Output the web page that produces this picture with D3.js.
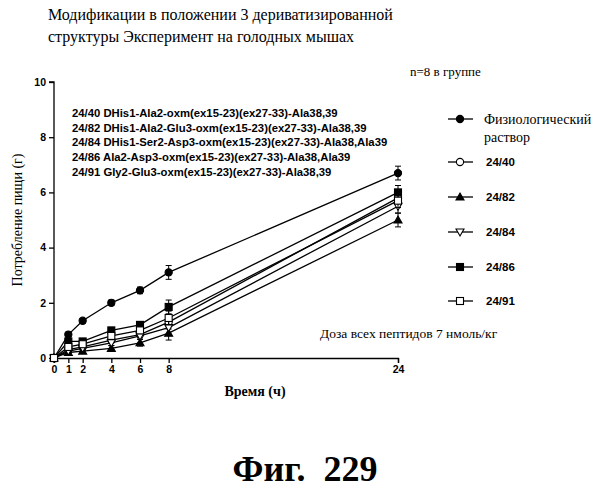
<!DOCTYPE html><html><head><meta charset="utf-8"><script src="https://cdn.jsdelivr.net/npm/d3@7"></script>
<style>body{margin:0;background:#fff}</style></head><body><svg id="c" width="610" height="500"></svg><script>
const hours=[0,1,2,4,6,8,24];
const yTicks=[0,2,4,6,8,10];
const seriesNames=["Физиологический раствор","24/40","24/82","24/84","24/86","24/91"];
const saline=[0,0.85,1.35,2.0,2.45,3.1,6.7];
const s2440=[0,0.3,0.4,0.65,0.85,1.3,5.8];
const s2482=[0,0.2,0.25,0.35,0.55,0.9,5.0];
const s2484=[0,0.25,0.35,0.55,0.8,1.1,5.5];
const s2486=[0,0.6,0.6,1.0,1.2,1.85,6.0];
const s2491=[0,0.4,0.5,0.8,1.0,1.45,5.7];
const errs=[0,0.08,0.08,0.1,0.12,0.25,0.25];
const peptides=["24/40 DHis1-Ala2-oxm(ex15-23)(ex27-33)-Ala38,39","24/82 DHis1-Ala2-Glu3-oxm(ex15-23)(ex27-33)-Ala38,39","24/84 DHis1-Ser2-Asp3-oxm(ex15-23)(ex27-33)-Ala38,Ala39","24/86 Ala2-Asp3-oxm(ex15-23)(ex27-33)-Ala38,Ala39","24/91 Gly2-Glu3-oxm(ex15-23)(ex27-33)-Ala38,39"];
const all=[saline,s2440,s2482,s2484,s2486,s2491];
const markers=["fcircle","ocircle","ftri","otri","fsq","osq"];
const svg=d3.select("#c");
const x=d3.scaleLinear().domain([0,24]).range([54,398]);
const y=d3.scaleLinear().domain([0,10]).range([358,82]);
const serif="Liberation Serif, serif", sans="Liberation Sans, Arial, sans-serif";
svg.append("text").attr("x",48).attr("y",20).attr("font-family",serif).attr("font-size",16).text("Модификации в положении 3 дериватизированной");
svg.append("text").attr("x",48).attr("y",42).attr("font-family",serif).attr("font-size",16).text("структуры Эксперимент на голодных мышах");
svg.append("text").attr("x",410).attr("y",76).attr("font-family",serif).attr("font-size",13).text("n=8 в группе");
const ya=svg.append("g").attr("transform","translate(54,0)").call(d3.axisLeft(y).tickValues(yTicks).tickSize(5).tickFormat(d3.format("d")));
const xa=svg.append("g").attr("transform","translate(0,358)").call(d3.axisBottom(x).tickValues(hours).tickSize(5));
[ya,xa].forEach(a=>{a.selectAll("text").attr("font-family",sans).attr("font-weight","bold").attr("font-size",10.5);a.selectAll("line,path").attr("stroke","#000").attr("stroke-width",1.3);});
ya.select(".domain").attr("d","M-5,82H0V358");
svg.append("text").attr("transform","translate(22,220) rotate(-90)").attr("text-anchor","middle").attr("font-family",serif).attr("font-size",14).text("Потребление пищи (г)");
svg.append("text").attr("x",255).attr("y",396).attr("text-anchor","middle").attr("font-family",serif).attr("font-weight","bold").attr("font-size",14).text("Время (ч)");
svg.append("text").attr("x",305).attr("y",481).attr("text-anchor","middle").attr("font-family",serif).attr("font-weight","bold").attr("font-size",36).text("Фиг.\u00a0\u00a0229");
svg.append("text").attr("x",320).attr("y",338).attr("font-family",serif).attr("font-size",13.5).text("Доза всех пептидов 7 нмоль/кг");
peptides.forEach((p,i)=>svg.append("text").attr("x",72).attr("y",117+i*14.7).attr("font-family",sans).attr("font-weight","bold").attr("font-size",11.3).text(p));
function marker(g,t,cx,cy){
 const fill=t[0]=="f"?"#000":"#fff";
 if(t.endsWith("circle"))g.append("circle").attr("cx",cx).attr("cy",cy).attr("r",3.6).attr("fill",fill).attr("stroke","#000").attr("stroke-width",1.1);
 else if(t.endsWith("sq"))g.append("rect").attr("x",cx-3.5).attr("y",cy-3.5).attr("width",7).attr("height",7).attr("fill",fill).attr("stroke","#000").attr("stroke-width",1.1);
 else {const d=t=="ftri"?`M${cx},${cy-4}L${cx+4},${cy+3}L${cx-4},${cy+3}Z`:`M${cx},${cy+4}L${cx+4},${cy-3}L${cx-4},${cy-3}Z`;g.append("path").attr("d",d).attr("fill",fill).attr("stroke","#000").attr("stroke-width",1.1);}
}
const line=d3.line().x((d,i)=>x(hours[i])).y(d=>y(d));
all.forEach((vals,k)=>{
 const g=svg.append("g");
 g.append("path").attr("d",line(vals)).attr("fill","none").attr("stroke","#000").attr("stroke-width",1.3);
 vals.forEach((v,i)=>{const e=errs[i];if(e>0){g.append("path").attr("d",`M${x(hours[i])},${y(v+e)}V${y(v-e)}M${x(hours[i])-3},${y(v+e)}h6M${x(hours[i])-3},${y(v-e)}h6`).attr("stroke","#000").attr("stroke-width",1);}
  marker(g,markers[k],x(hours[i]),y(v));});
});
const ly=[119,162,197,232,267,301];
seriesNames.forEach((n,k)=>{
 const g=svg.append("g");
 g.append("line").attr("x1",448).attr("x2",473).attr("y1",ly[k]).attr("y2",ly[k]).attr("stroke","#000").attr("stroke-width",1.3);
 marker(g,markers[k],460,ly[k]);
 if(k==0){g.append("text").attr("x",484).attr("y",124).attr("font-family",serif).attr("font-size",14).text("Физиологический");
  g.append("text").attr("x",484).attr("y",142).attr("font-family",serif).attr("font-size",14).text("раствор");}
 else g.append("text").attr("x",486).attr("y",ly[k]+4).attr("font-family",sans).attr("font-weight","bold").attr("font-size",11.5).text(n);
});
</script></body></html>
